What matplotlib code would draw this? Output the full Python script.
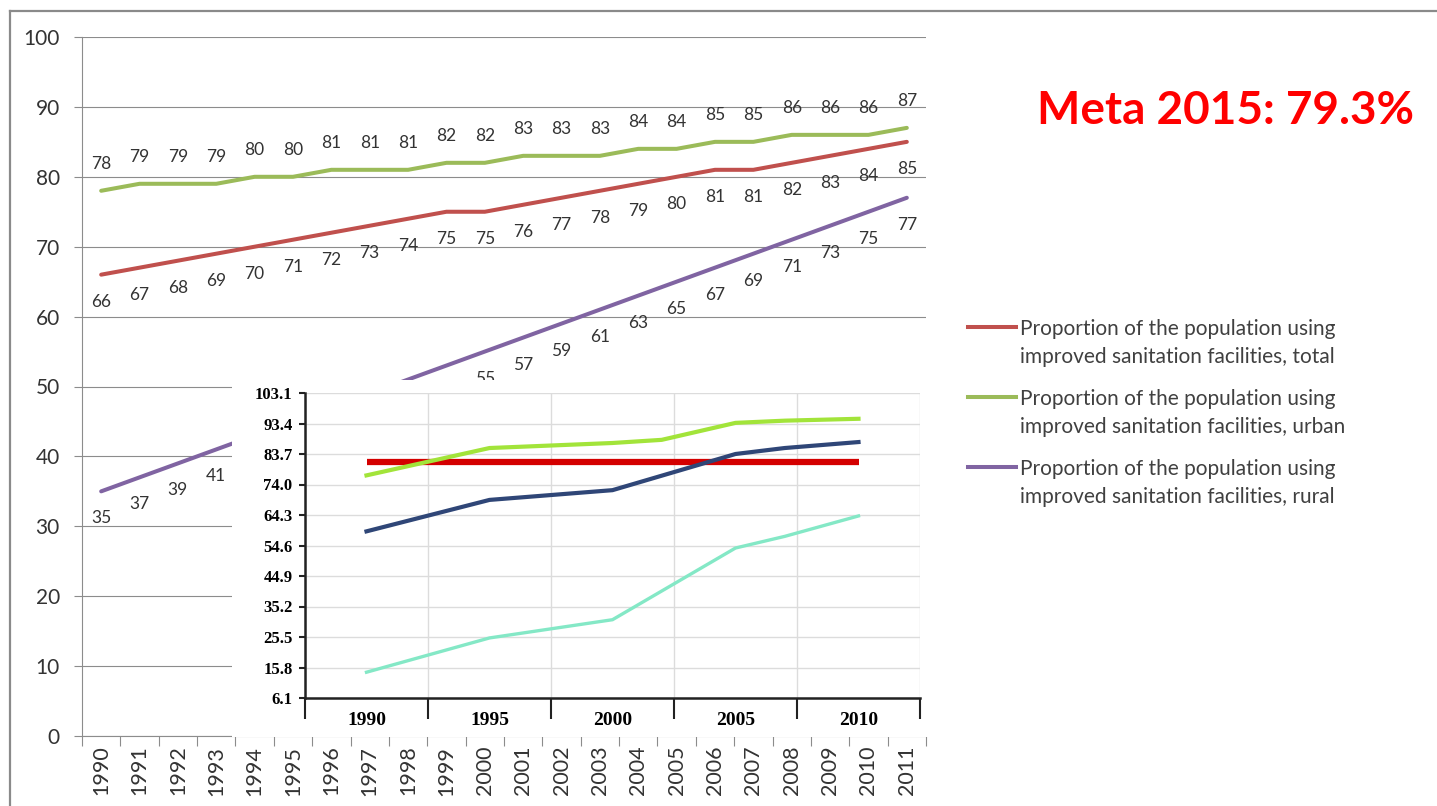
import numpy as np
import matplotlib
matplotlib.use("Agg")
from matplotlib import pyplot as plt
from matplotlib.lines import Line2D
from matplotlib.patches import Rectangle

''' Figure size in pixels '''
W, H = 1437, 806

''' Main chart data '''
years = ['1990', '1991', '1992', '1993', '1994', '1995', '1996', '1997', '1998', '1999', '2000',
         '2001', '2002', '2003', '2004', '2005', '2006', '2007', '2008', '2009', '2010', '2011']
total = [66, 67, 68, 69, 70, 71, 72, 73, 74, 75, 75, 76, 77, 78, 79, 80, 81, 81, 82, 83, 84, 85]
urban = [78, 79, 79, 79, 80, 80, 81, 81, 81, 82, 82, 83, 83, 83, 84, 84, 85, 85, 86, 86, 86, 87]
rural = [35, 37, 39, 41, 43, 45, 47, 49, 51, 53, 55, 57, 59, 61, 63, 65, 67, 69, 71, 73, 75, 77]
# rural labels for these years sit under the pasted picture in the slide
rural_hidden = ['1994', '1995', '1996', '1997', '1998', '1999']

legend_labels = [
    "Proportion of the population using\nimproved sanitation facilities, total",
    "Proportion of the population using\nimproved sanitation facilities, urban",
    "Proportion of the population using\nimproved sanitation facilities, rural",
]
goal_text = "Meta 2015: 79.3%"

''' Inset chart data (pasted picture in the slide) '''
inset_yticks = [6.1, 15.8, 25.5, 35.2, 44.9, 54.6, 64.3, 74.0, 83.7, 93.4, 103.1]
inset_xlabels = [1990, 1995, 2000, 2005, 2010]
goal_years = [1990, 2010]
goal_vals = [81.0, 81.0]
green_years = [1990, 1995, 2000, 2002, 2005, 2007, 2010]
green_vals = [76.9, 85.6, 87.2, 88.2, 93.6, 94.3, 94.9]
blue_years = [1990, 1995, 2000, 2005, 2007, 2010]
blue_vals = [59.1, 69.1, 72.2, 83.7, 85.6, 87.5]
cyan_years = [1990, 1995, 2000, 2005, 2007, 2010]
cyan_vals = [14.3, 25.2, 31.0, 53.8, 57.5, 64.0]

C_TOTAL, C_URBAN, C_RURAL = '#c0504d', '#9bbb59', '#8064a2'
GRID = '#8c8c8c'
TXT = '#333333'

fig = plt.figure(figsize=(W / 100, H / 100), dpi=100)

# outer slide frame (left + top edges only visible)
fig.add_artist(Line2D([10 / W, 10 / W], [0, 1 - 11 / H], color='#8a8a8a', lw=1.6))
fig.add_artist(Line2D([10 / W, 1], [1 - 11 / H, 1 - 11 / H], color='#8a8a8a', lw=1.6))

# main axes
ax = fig.add_axes([82 / W, 1 - 736 / H, (926 - 82) / W, (736 - 37) / H], zorder=0)
x = np.arange(len(years))
series = [(total, C_TOTAL, -27, []), (urban, C_URBAN, 27, []), (rural, C_RURAL, -27, rural_hidden)]
for vals, col, off, hidden in series:
    ax.plot(x, vals, color=col, lw=2.9, solid_capstyle='round')
    for xi, yr, v in zip(x, years, vals):
        if yr in hidden:
            continue
        ax.annotate(str(v), (xi, v), xytext=(0, off), textcoords='offset pixels',
                    ha='center', va='center', fontsize=12.5, family='Lato', color=TXT)

ax.set_xlim(-0.5, len(years) - 0.5)
ax.set_ylim(0, 100)
ax.set_yticks(range(0, 101, 10))
ax.yaxis.grid(True, color=GRID, lw=0.8)
ax.set_axisbelow(True)
ax.set_xticks(x)
ax.set_xticklabels(years, rotation=90, fontsize=15.5, family='Lato', color=TXT)
ax.set_xticks(np.arange(-0.5, len(years), 1), minor=True)
ax.tick_params(axis='x', which='major', length=0, pad=7)
ax.tick_params(axis='x', which='minor', length=7, color=GRID, width=0.8)
ax.tick_params(axis='y', length=6, color=GRID, width=0.8, pad=10, labelsize=15, labelcolor=TXT)
for lab in ax.get_yticklabels():
    lab.set_family('Lato')
for s in ['top', 'right']:
    ax.spines[s].set_visible(False)
for s in ['left', 'bottom']:
    ax.spines[s].set_color(GRID)
    ax.spines[s].set_linewidth(0.8)

# white picture area that hides part of the main chart
fig.add_artist(Rectangle((232 / W, 1 - 737 / H), 700 / W, (737 - 380) / H,
                         transform=fig.transFigure, facecolor='white', edgecolor='none', zorder=1))

# inset axes
ax2 = fig.add_axes([305 / W, 1 - 698 / H, 615 / W, (698 - 393) / H], zorder=2)
ax2.plot(goal_years, goal_vals, color='#d40000', lw=4.5, solid_capstyle='butt')
ax2.plot(green_years, green_vals, color='#a2e43a', lw=3.0)
ax2.plot(blue_years, blue_vals, color='#2f4677', lw=3.0)
ax2.plot(cyan_years, cyan_vals, color='#84e8c6', lw=2.4)
ax2.set_xlim(1987.5, 2012.5)
ax2.set_ylim(inset_yticks[0], inset_yticks[-1])
ax2.set_yticks(inset_yticks)
ax2.set_yticklabels(['%.1f' % v for v in inset_yticks], family='Liberation Serif',
                    weight='bold', fontsize=12)
ax2.set_xticks(inset_xlabels)
ax2.set_xticklabels([str(v) for v in inset_xlabels], family='Liberation Serif',
                    weight='bold', fontsize=14)
ax2.set_xticks(np.arange(1987.5, 2013, 5), minor=True)
ax2.tick_params(axis='x', which='major', length=0, pad=10)
ax2.tick_params(axis='x', which='minor', length=15, width=1.5, color='#222222')
ax2.tick_params(axis='y', length=4, width=1.5, color='#222222', pad=5)
ax2.yaxis.grid(True, color='#dcdcdc', lw=1.0)
ax2.xaxis.grid(True, which='minor', color='#dcdcdc', lw=1.0)
ax2.set_axisbelow(True)
for s in ['top', 'right']:
    ax2.spines[s].set_visible(False)
for s in ['left', 'bottom']:
    ax2.spines[s].set_color('#222222')
    ax2.spines[s].set_linewidth(1.8)

# legend drawn by hand so the key sits on the first text line
for i, (lab, col) in enumerate(zip(legend_labels, [C_TOTAL, C_URBAN, C_RURAL])):
    yl = 1 - (327 + 70 * i) / H
    fig.add_artist(Line2D([968 / W, 1016 / W], [yl, yl], color=col, lw=2.9))
    fig.text(1020 / W, yl + 8 / H, lab, ha='left', va='top', fontsize=15, family='Lato',
             color='#404040', linespacing=1.5)

fig.text(1037 / W, 1 - 124 / H, goal_text, ha='left', va='baseline', fontsize=33,
         weight='bold', family='Lato', color='#ff0000')

fig.savefig('out.png', dpi=100)
